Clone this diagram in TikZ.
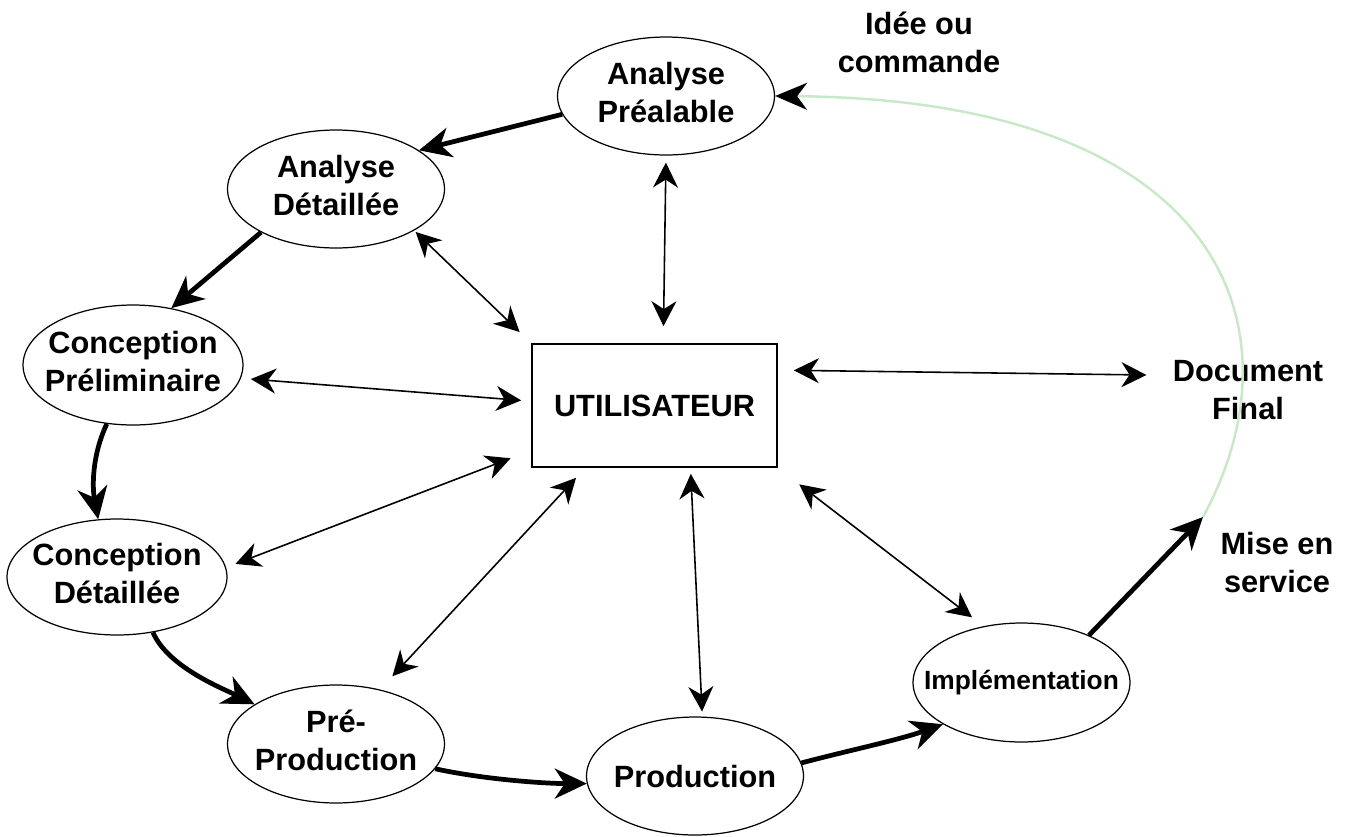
\documentclass[tikz,border=0pt]{standalone}
\usepackage{fontspec}
\setmainfont{Liberation Sans}
\usetikzlibrary{shapes.geometric,arrows.meta}
\newcommand{\twoline}[2]{\begin{tabular}{@{}c@{}}#1\\#2\end{tabular}}
\newcommand{\zw}[1]{\makebox[0pt]{#1}}
\definecolor{paleGreen}{RGB}{200,232,200}
\begin{document}
\begin{tikzpicture}[x=0.02cm,y=-0.02cm,
  txt/.style={font=\fontsize{17.5pt}{21.5pt}\selectfont\bfseries, inner sep=0pt},
  phase/.style={txt, ellipse, draw, line width=0.7pt, minimum width=4.34cm, minimum height=2.36cm},
  flow/.style={line width=2.7pt, -{Stealth[length=0.64cm,width=0.6cm,inset=0.2cm]}},
  link/.style={line width=0.9pt, {Stealth[length=0.5cm,width=0.5cm,inset=0.16cm]}-{Stealth[length=0.5cm,width=0.5cm,inset=0.16cm]}},
  feedback/.style={line width=1.4pt, draw=paleGreen, -{Stealth[length=0.64cm,width=0.54cm,inset=0.2cm,color=black]}}]
\useasboundingbox (0,0) rectangle (1356,836);

% phases
\node[phase] (AP) at (666,96) {\zw{\twoline{Analyse}{Préalable}}};
\node[phase] (AD) at (336,189) {\zw{\twoline{Analyse}{Détaillée}}};
\node[phase, minimum width=4.4cm, minimum height=2.4cm] (CP) at (133,365) {\zw{\twoline{Conception}{Préliminaire}}};
\node[phase, minimum width=4.4cm, minimum height=2.32cm] (CD) at (117,577) {\zw{\twoline{Conception}{Détaillée}}};
\node[phase] (PP) at (336,744) {\zw{\twoline{Pré-}{Production}}};
\node[phase] (Prod) at (695,776) {\zw{Production}};
\node[phase, minimum height=2.38cm, font=\fontsize{15pt}{18pt}\selectfont\bfseries] (Impl) at (1021.5,682.5) {\zw{Implémentation}};
\node[txt, draw, line width=1pt, minimum width=4.9cm, minimum height=2.46cm] (U) at (654.5,405.5) {UTILISATEUR};

% free labels
\node[txt] (Idee) at (919,46) {\twoline{Idée ou}{commande}};
\node[txt] (Doc) at (1248,393) {\twoline{Document}{Final}};
\node[txt] (Mise) at (1277,566) {\twoline{Mise en}{service}};
\coordinate (mtip) at (1203,517);

% process flow
\draw[flow] (AP.190) -- (AD.25);
\draw[flow] (AD.210) -- (CP.56);
\draw[flow] (CP.246) .. controls +(-15,32) and +(-6,-32) .. (CD.108);
\draw[flow] (CD.-57) .. controls +(15,35) and +(-30,-15) .. (PP.154);
\draw[flow] (PP.-14) .. controls +(45,10) and +(-45,0) .. (Prod.184);
\draw[flow] (Prod.7) .. controls +(45,-12) and +(-45,16) .. (Impl.208);
\draw[flow] (Impl.35) -- (mtip);
\draw[feedback] (mtip) .. controls (1305,330) and (1225,100) .. (AP.east);

% links with the user
\draw[link, shorten <=0.14cm, shorten >=0.34cm] (AP.south) -- (U.82);
\draw[link, shorten <=0.04cm, shorten >=0.32cm] (AD.-28) -- (U.north west);
\draw[link, shorten <=0.2cm, shorten >=0.2cm] (CP.-7) -- (U.178);
\draw[link, shorten <=0.2cm, shorten >=0.44cm] (CD.5) -- (U.200);
\draw[link, shorten <=0.36cm, shorten >=0.27cm] (PP.51) -- (U.222);
\draw[link, shorten <=0.1cm, shorten >=0.12cm] (Prod.83) -- (U.-60);
\draw[link, shorten <=0.29cm, shorten >=0.54cm] (Impl.124) -- (U.south east);
\draw[link, shorten <=0.32cm] (U.16) -- ([xshift=-0.52cm,yshift=0.36cm]Doc.west);
\end{tikzpicture}
\end{document}
